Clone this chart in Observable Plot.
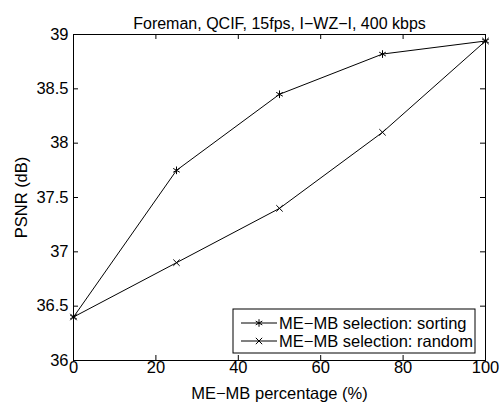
<!DOCTYPE html>
<html>
<head>
<meta charset="utf-8">
<script src="https://cdn.jsdelivr.net/npm/d3@7"></script>
<script src="https://cdn.jsdelivr.net/npm/@observablehq/plot@0.6"></script>
<style>
  html, body { margin: 0; padding: 0; background: #fff; }
  #chart { position: relative; width: 504px; height: 403px; }
</style>
</head>
<body>
<div id="chart"></div>
<script>
const titleText = "Foreman, QCIF, 15fps, I\u2212WZ\u2212I, 400 kbps";
const xLabel = "ME\u2212MB percentage (%)";
const yLabel = "PSNR (dB)";
const mbPercent = [0, 25, 50, 75, 100];
const psnrSorting = [36.4, 37.75, 38.45, 38.82, 38.94];
const psnrRandom = [36.4, 36.9, 37.4, 38.1, 38.94];
const seriesNames = ["ME\u2212MB selection: sorting", "ME\u2212MB selection: random"];
const seriesSymbols = ["asterisk", "times"];
const xTicks = [0, 20, 40, 60, 80, 100];
const yTicks = [36, 36.5, 37, 37.5, 38, 38.5, 39];

const rows = [];
mbPercent.forEach((x, i) => {
  rows.push({x, y: psnrSorting[i], s: seriesNames[0]});
  rows.push({x, y: psnrRandom[i], s: seriesNames[1]});
});

const font = "'Liberation Sans', Arial, Helvetica, sans-serif";
const fs = 16.5;

const plot = Plot.plot({
  width: 504,
  height: 403,
  marginLeft: 73,
  marginRight: 19,
  marginTop: 34,
  marginBottom: 43,
  style: {fontFamily: font, fontSize: fs + "px", color: "#000", background: "#fff"},
  x: {domain: [0, 100]},
  y: {domain: [36, 39]},
  marks: [
    Plot.frame({stroke: "#000", strokeWidth: 1}),
    // tick labels
    Plot.axisX({ticks: xTicks, tickSize: 0, tickPadding: 1, fontSize: fs, tickFormat: d => String(d), label: xLabel, labelAnchor: "center", labelArrow: "none", labelOffset: 38}),
    Plot.axisY({ticks: yTicks, tickSize: 0, tickPadding: 5, fontSize: fs, tickFormat: d => String(d), label: yLabel, labelAnchor: "center", labelArrow: "none", labelOffset: 58}),
    // inward ticks on all sides
    Plot.ruleX(xTicks, {x: d => d, stroke: "#000", insetTop: 321}),
    Plot.ruleX(xTicks, {x: d => d, stroke: "#000", insetBottom: 321}),
    Plot.ruleY(yTicks, {y: d => d, stroke: "#000", insetRight: 407}),
    Plot.ruleY(yTicks, {y: d => d, stroke: "#000", insetLeft: 407}),
    // series
    Plot.line(rows, {x: "x", y: "y", z: "s", stroke: "#000", strokeWidth: 1}),
    Plot.dot(rows.filter(d => d.s === seriesNames[0]), {x: "x", y: "y", symbol: () => "asterisk", r: 3.6, stroke: "#000", strokeWidth: 1}),
    Plot.dot(rows.filter(d => d.s === seriesNames[1]), {x: "x", y: "y", symbol: () => "times", r: 3, stroke: "#000", strokeWidth: 1}),
    // title
    Plot.text([titleText], {text: d => d, frameAnchor: "top", dy: -17, fontSize: 16, fill: "#000"})
  ]
});

document.getElementById("chart").appendChild(plot);

// legend inside the axes (lower right)
const svg = d3.select(plot);
const lg = svg.append("g").attr("transform", "translate(233,309)");
lg.append("rect").attr("width", 242).attr("height", 44).attr("fill", "#fff").attr("stroke", "#000").attr("stroke-width", 1);
const symbolFns = {asterisk: d3.symbolAsterisk, times: d3.symbolTimes};
seriesNames.forEach((name, i) => {
  const cy = 14 + i * 18;
  lg.append("line").attr("x1", 8).attr("x2", 44).attr("y1", cy).attr("y2", cy).attr("stroke", "#000");
  lg.append("path").attr("transform", `translate(26,${cy})`)
    .attr("d", d3.symbol(symbolFns[seriesSymbols[i]], i === 0 ? 40 : 28)())
    .attr("fill", "none").attr("stroke", "#000");
  lg.append("text").attr("x", 46).attr("y", cy).attr("dy", "0.35em")
    .attr("text-anchor", "start")
    .attr("font-family", font).attr("font-size", fs).attr("fill", "#000").text(name);
});
</script>
</body>
</html>
